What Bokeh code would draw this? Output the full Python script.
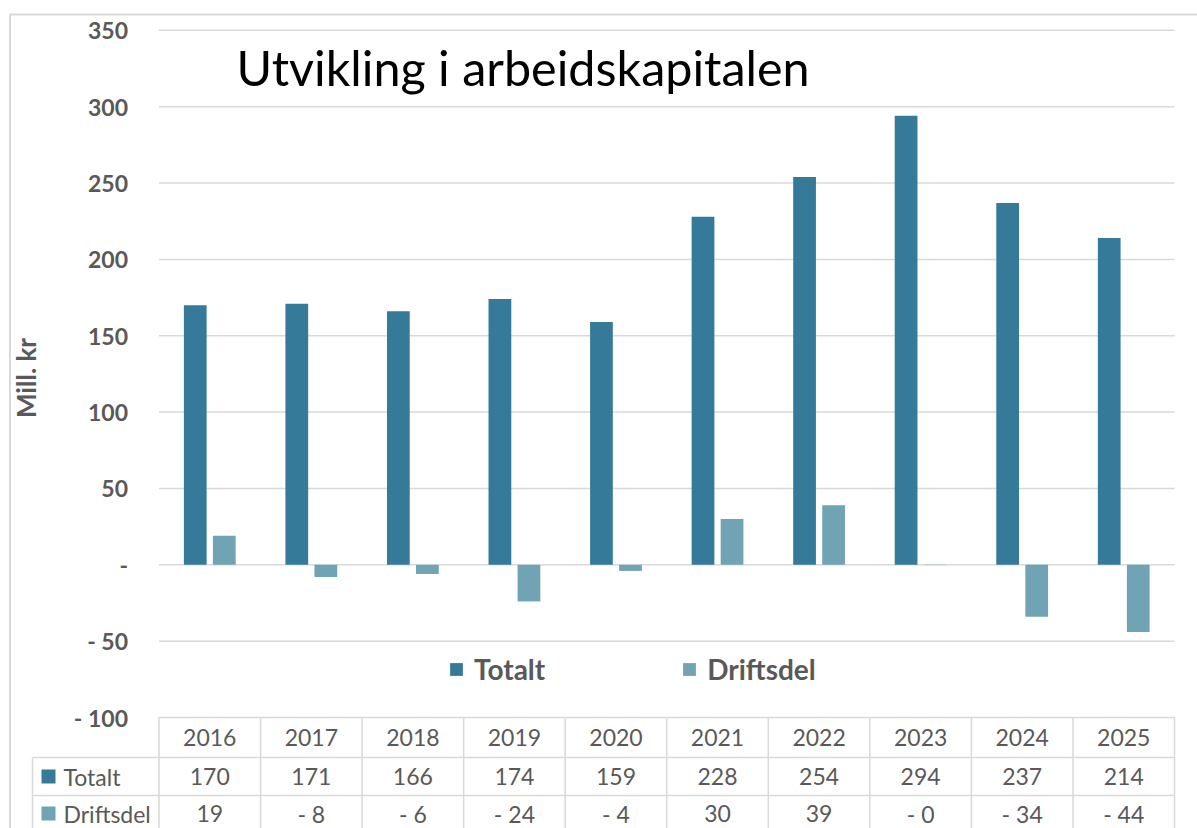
from bokeh.plotting import figure
from bokeh.models import Range1d, FixedTicker, Legend, LegendItem, ColumnDataSource
from bokeh.embed import file_html
from bokeh.resources import INLINE
from bokeh.core.properties import value

# ---- data ----
years = ["2016", "2017", "2018", "2019", "2020", "2021", "2022", "2023", "2024", "2025"]
totalt = [170, 171, 166, 174, 159, 228, 254, 294, 237, 214]
driftsdel = [19, -8, -6, -24, -4, 30, 39, -0.2, -34, -44]
series_names = ["Totalt", "Driftsdel"]
y_ticks = [-100, -50, 0, 50, 100, 150, 200, 250, 300, 350]
title_text = "Utvikling i arbeidskapitalen"
y_label = "Mill. kr"

# ---- style ----
colors = ["#367A99", "#70A3B4"]
grey_text = "#595959"
line_grey = "#d9d9d9"
FONT = "Lato"


def fmt_val(v):
    r = int(round(abs(v)))
    if v < 0:
        return "- %d" % r
    return "%d" % r


def fmt_tick(t):
    if t == 0:
        return "-"
    if t < 0:
        return "- %d" % abs(t)
    return "%d" % t


# ---- geometry (page pixels; the figure fills the window) ----
W, H = 1197, 828
PLOT_L, PLOT_R = 158.5, 1174
CAT_PX = (PLOT_R - PLOT_L) / 10.0
PPU = 1.527
BOTTOM_TICK_PAGE = 717
ZERO_PAGE = BOTTOM_TICK_PAGE + y_ticks[0] * PPU


def yv(py):
    return (ZERO_PAGE - py) / PPU


def xv(px):
    return -0.5 + (px - PLOT_L) / CAT_PX


n = len(years)
idx = list(range(n))

p = figure(width=W, height=H,
           x_range=Range1d(xv(0), xv(W)), y_range=Range1d(yv(H), yv(0)),
           output_backend="svg", toolbar_location=None,
           x_axis_location=None,
           min_border_left=0, min_border_right=0,
           min_border_top=0, min_border_bottom=0,
           border_fill_color="white", background_fill_color="white",
           outline_line_color=None)
p.xgrid.grid_line_color = None
p.ygrid.grid_line_color = None

# gridlines across the plot area
p.segment(x0=[-0.5] * len(y_ticks), x1=[n - 0.5] * len(y_ticks), y0=y_ticks, y1=y_ticks,
          line_color=line_grey, line_width=1.5)

src = ColumnDataSource(dict(
    x_t=[i - 0.143 for i in idx], x_d=[i + 0.143 for i in idx],
    totalt=totalt, driftsdel=driftsdel))

r1 = p.vbar(x="x_t", top="totalt", bottom=0, width=0.224, source=src,
            fill_color=colors[0], line_color=None)
r2 = p.vbar(x="x_d", top="driftsdel", bottom=0, width=0.224, source=src,
            fill_color=colors[1], line_color=None)

# y axis, placed at the left edge of the plot area
ya = p.yaxis[0]
ya.fixed_location = -0.5
ya.bounds = (yv(377.5) * 2 - y_ticks[-1], y_ticks[-1])   # centres the axis title
ya.ticker = FixedTicker(ticks=y_ticks)
ya.major_label_overrides = {t: fmt_tick(t) for t in y_ticks}
ya.major_tick_line_color = None
ya.major_tick_out = 0
ya.major_tick_in = 0
ya.minor_tick_line_color = None
ya.axis_line_color = None
ya.major_label_standoff = 31
ya.major_label_text_font = FONT
ya.major_label_text_font_style = "bold"
ya.major_label_text_font_size = "23px"
ya.major_label_text_color = grey_text
ya.axis_label = y_label
ya.axis_label_text_font = FONT
ya.axis_label_text_font_style = "bold"
ya.axis_label_text_font_size = "26px"
ya.axis_label_text_color = grey_text
ya.axis_label_standoff = 29

legend = Legend(items=[LegendItem(label=series_names[0], renderers=[r1]),
                       LegendItem(label=series_names[1], renderers=[r2])],
                orientation="horizontal", location=(448, 142),
                padding=0, margin=0, border_line_color=None,
                background_fill_color=None,
                glyph_width=16, glyph_height=16, label_standoff=10, spacing=136,
                label_text_font=FONT, label_text_font_style="bold",
                label_text_font_size="28px", label_text_color=grey_text)
p.add_layout(legend)

# chart title
p.text(x=[xv(236)], y=[yv(66.5)], text=[title_text], text_align="left",
       text_baseline="middle", text_font=value(FONT), text_font_size="48.5px",
       text_color="black")

# ---- outer chart border ----
p.segment(x0=[xv(9.5), xv(9)], y0=[yv(14), yv(14)], x1=[xv(9.5), xv(W)], y1=[yv(H), yv(14)],
          line_color=line_grey, line_width=2)

# ---- data table ----
ROW_L = 32
header_center = 737
row_lines = [757, 795]
row_centers = [776, 813]

vx = [i - 0.5 for i in range(n + 1)]
p.segment(x0=vx, y0=[yv(BOTTOM_TICK_PAGE)] * len(vx), x1=vx, y1=[yv(H)] * len(vx),
          line_color=line_grey, line_width=1.5)
p.segment(x0=[xv(ROW_L)], y0=[yv(row_lines[0])], x1=[xv(ROW_L)], y1=[yv(H)],
          line_color=line_grey, line_width=1.5)
p.segment(x0=[xv(ROW_L)] * 2, y0=[yv(t) for t in row_lines], x1=[n - 0.5] * 2,
          y1=[yv(t) for t in row_lines], line_color=line_grey, line_width=1.5)

p.text(x=idx, y=[yv(header_center)] * n, text=years, text_align="center",
       text_baseline="middle", text_font=value(FONT), text_font_size="23px",
       text_color=grey_text)
for vals, rc in zip([totalt, driftsdel], row_centers):
    p.text(x=idx, y=[yv(rc)] * n, text=[fmt_val(v) for v in vals],
           text_align="center", text_baseline="middle", text_font=value(FONT),
           text_font_size="23px", text_color=grey_text)

p.scatter(x=[xv(48)] * 2, y=[yv(rc) for rc in row_centers], marker="square", size=14,
          fill_color=colors, line_color=None)
p.text(x=[xv(63)] * 2, y=[yv(rc) for rc in row_centers], text=series_names,
       text_align="left", text_baseline="middle", text_font=value(FONT),
       text_font_size="23px", text_color=grey_text)

open("out.html", "w").write(file_html(p, INLINE))
